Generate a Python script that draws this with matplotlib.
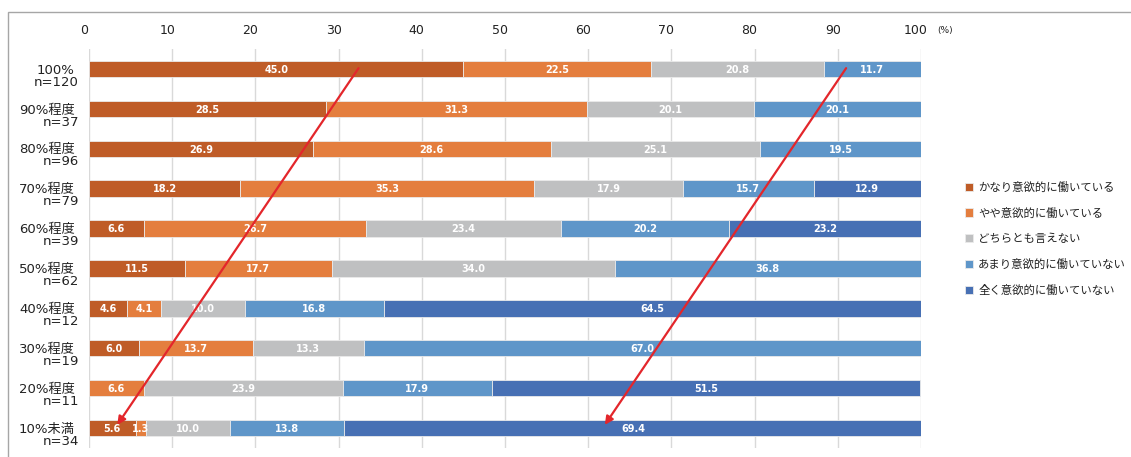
import matplotlib
matplotlib.use("Agg")
import matplotlib.pyplot as plt
from matplotlib.patches import Rectangle
from matplotlib.transforms import ScaledTranslation

plt.rcParams['font.family'] = ['DejaVu Sans', 'Noto Sans CJK JP']
CJK = ['Noto Sans CJK JP', 'DejaVu Sans']

categories = ["100%", "90%程度", "80%程度", "70%程度", "60%程度",
              "50%程度", "40%程度", "30%程度", "20%程度", "10%未満"]
sample_sizes = ["n=120", "n=37", "n=96", "n=79", "n=39",
                "n=62", "n=12", "n=19", "n=11", "n=34"]
series_names = ["かなり意欲的に働いている", "やや意欲的に働いている", "どちらとも言えない",
                "あまり意欲的に働いていない", "全く意欲的に働いていない"]
very_motivated = [45.0, 28.5, 26.9, 18.2, 6.6, 11.5, 4.6, 6.0, 0.0, 5.6]
somewhat_motivated = [22.5, 31.3, 28.6, 35.3, 26.7, 17.7, 4.1, 13.7, 6.6, 1.3]
neutral = [20.8, 20.1, 25.1, 17.9, 23.4, 34.0, 10.0, 13.3, 23.9, 10.0]
not_very_motivated = [11.7, 20.1, 19.5, 15.7, 20.2, 36.8, 16.8, 67.0, 17.9, 13.8]
not_motivated = [0.0, 0.0, 0.0, 12.9, 23.2, 0.0, 64.5, 0.0, 51.5, 69.4]
series_values = [very_motivated, somewhat_motivated, neutral,
                 not_very_motivated, not_motivated]
colors = ["#BF5C27", "#E47E3E", "#BFC0C1", "#5F96C9", "#4770B4"]
x_ticks = [0, 10, 20, 30, 40, 50, 60, 70, 80, 90, 100]

fig = plt.figure(figsize=(11.31, 4.57), dpi=100)
W, H = 1131, 457
ax = fig.add_axes([89 / W, 9 / H, 832 / W, 399 / H])

# outer frame
fig.patches.append(Rectangle((8 / W, -0.1), 1.2, (457 - 12) / H + 0.1,
                             transform=fig.transFigure, fill=False,
                             edgecolor="#A6A6A6", linewidth=1.0))

rows = list(range(len(categories)))
left = [0.0] * len(categories)
for name, vals, col in zip(series_names, series_values, colors):
    ax.barh(rows, vals, left=left, height=0.41, color=col,
            edgecolor="#EAEAEA", linewidth=0.6, label=name, zorder=2)
    for r, v, l in zip(rows, vals, left):
        if v > 0:
            ax.text(l + v / 2, r + 0.02, f"{v:.1f}", ha="center", va="center",
                    color="white", fontsize=7, fontweight="bold", zorder=4)
    left = [a + b for a, b in zip(left, vals)]

ax.set_xlim(0, 100)
ax.set_ylim(len(categories) - 0.5, -0.5)
ax.xaxis.tick_top()
ax.set_xticks(x_ticks)
ax.set_xticklabels([str(t) for t in x_ticks], fontsize=9)
ax.tick_params(axis="x", length=0, pad=8.5, colors="#222222")
shift = ScaledTranslation(-5 / 100, 0, fig.dpi_scale_trans)
for lab in ax.get_xticklabels():
    lab.set_transform(lab.get_transform() + shift)
ax.set_yticks([])
for s in ax.spines.values():
    s.set_visible(False)
ax.grid(axis="x", color="#D9D9D9", linewidth=1.0, zorder=0)
ax.set_axisbelow(True)

for r, (c, n) in enumerate(zip(categories, sample_sizes)):
    ax.text(-1.7, r + 0.03, c, ha="right", va="center", fontsize=9.5,
            color="#222222", clip_on=False)
    ax.text(-1.2, r + 0.33, n, ha="right", va="center", fontsize=9.5,
            color="#222222", clip_on=False)

fig.text(937 / W, 1 - 31 / H, "(%)", fontsize=6.5, ha="left", va="center",
         color="#222222")

# trend arrows
for (x0, y0), (x1, y1) in [((32.4, -0.02), (3.4, 8.92)),
                           ((91.0, -0.02), (62.0, 8.92))]:
    ax.annotate("", xy=(x1, y1), xytext=(x0, y0), zorder=6,
                arrowprops=dict(arrowstyle="-|>", color="#E3262B",
                                linewidth=1.6, mutation_scale=12,
                                shrinkA=0, shrinkB=0),
                annotation_clip=False)

handles, labels = ax.get_legend_handles_labels()
fig.legend(handles, labels, loc="upper left",
           bbox_to_anchor=(960 / W, 1 - 177 / H), frameon=False,
           prop={'family': CJK, 'size': 8.2}, handlelength=0.75,
           handleheight=0.75, handletextpad=0.45, labelspacing=1.3,
           borderaxespad=0, labelcolor="#222222")

fig.savefig("out.png", dpi=100)
